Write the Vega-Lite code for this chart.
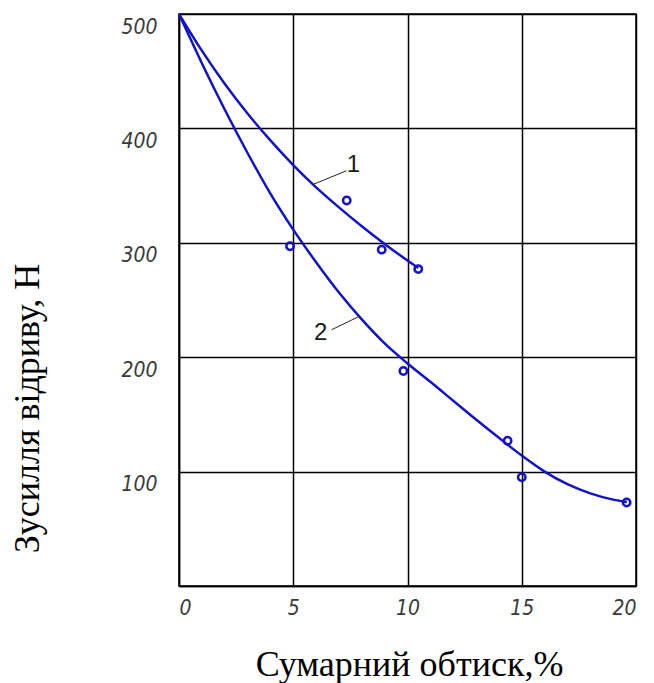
{
  "$schema": "https://vega.github.io/schema/vega-lite/v6.json",
  "width": 457,
  "height": 572,
  "autosize": "none",
  "padding": {"left": 179, "top": 14, "right": 18, "bottom": 97},
  "background": "white",
  "config": {
    "view": {"stroke": "#000", "strokeWidth": 1.5},
    "axis": {
      "grid": true,
      "gridColor": "#000",
      "gridWidth": 1.5,
      "gridOpacity": 1,
      "domainColor": "#000",
      "domainWidth": 1.5,
      "ticks": false,
      "labelFont": "DejaVu Sans Condensed",
      "labelFontStyle": "italic",
      "labelFontSize": 21,
      "labelColor": "#3a3a3a",
      "titleFont": "Liberation Serif",
      "titleFontWeight": "normal",
      "titleFontSize": 36,
      "titleColor": "#000"
    }
  },
  "datasets": {
    "curves": [
      {"x": 0, "y": 500, "series": "1"},
      {"x": 1, "y": 468, "series": "1"},
      {"x": 2, "y": 439, "series": "1"},
      {"x": 3, "y": 413, "series": "1"},
      {"x": 4, "y": 389.5, "series": "1"},
      {"x": 5, "y": 368, "series": "1"},
      {"x": 6, "y": 348.5, "series": "1"},
      {"x": 7, "y": 331, "series": "1"},
      {"x": 8, "y": 314.5, "series": "1"},
      {"x": 9, "y": 299, "series": "1"},
      {"x": 10, "y": 284.5, "series": "1"},
      {"x": 10.47, "y": 278, "series": "1"},
      {"x": 0, "y": 500, "series": "2"},
      {"x": 1, "y": 457, "series": "2"},
      {"x": 2, "y": 416.5, "series": "2"},
      {"x": 3, "y": 378.5, "series": "2"},
      {"x": 4, "y": 343, "series": "2"},
      {"x": 5, "y": 311.5, "series": "2"},
      {"x": 6, "y": 283, "series": "2"},
      {"x": 7, "y": 256.5, "series": "2"},
      {"x": 8, "y": 233, "series": "2"},
      {"x": 9, "y": 212, "series": "2"},
      {"x": 10, "y": 194.5, "series": "2"},
      {"x": 11, "y": 178.5, "series": "2"},
      {"x": 12, "y": 162, "series": "2"},
      {"x": 13, "y": 145.5, "series": "2"},
      {"x": 14, "y": 129.5, "series": "2"},
      {"x": 15, "y": 114, "series": "2"},
      {"x": 16, "y": 100, "series": "2"},
      {"x": 17, "y": 89, "series": "2"},
      {"x": 18, "y": 81, "series": "2"},
      {"x": 19, "y": 75.5, "series": "2"},
      {"x": 19.6, "y": 73.5, "series": "2"}
    ],
    "points": [
      {"x": 7.34, "y": 337, "series": "1"},
      {"x": 8.87, "y": 294, "series": "1"},
      {"x": 10.47, "y": 277, "series": "1"},
      {"x": 4.86, "y": 297, "series": "2"},
      {"x": 9.82, "y": 188, "series": "2"},
      {"x": 14.38, "y": 127, "series": "2"},
      {"x": 15.0, "y": 95, "series": "2"},
      {"x": 19.59, "y": 73, "series": "2"}
    ],
    "labels": [
      {"label": "1", "x": 7.63, "y": 368, "lx1": 5.87, "ly1": 351, "lx2": 7.33, "ly2": 363},
      {"label": "2", "x": 6.2, "y": 221, "lx1": 6.68, "ly1": 224, "lx2": 7.92, "ly2": 236}
    ]
  },
  "layer": [
    {
      "data": {"name": "curves"},
      "mark": {"type": "line", "color": "#1212c4", "strokeWidth": 2.5, "interpolate": "monotone"},
      "encoding": {
        "x": {
          "field": "x", "type": "quantitative",
          "scale": {"domain": [0, 20], "nice": false},
          "axis": {
            "values": [0, 5, 10, 15, 20],
            "labelPadding": 11,
            "title": "Сумарний обтиск,%",
            "titleX": 230, "titleY": 89,
            "titleAlign": "center", "titleBaseline": "alphabetic"
          }
        },
        "y": {
          "field": "y", "type": "quantitative",
          "scale": {"domain": [0, 500], "nice": false},
          "axis": {
            "values": [0, 100, 200, 300, 400, 500],
            "labelExpr": "datum.value == 0 ? '' : datum.label",
            "labelPadding": 22,
            "labelOffset": 13,
            "title": "Зусилля відриву, Н",
            "titleX": -141, "titleY": 394,
            "titleAngle": -90,
            "titleAlign": "center", "titleBaseline": "alphabetic"
          }
        },
        "detail": {"field": "series", "type": "nominal"}
      }
    },
    {
      "data": {"name": "points"},
      "mark": {"type": "point", "shape": "circle", "filled": false, "color": "#1212c4", "strokeWidth": 2.5, "size": 55, "opacity": 1},
      "encoding": {
        "x": {"field": "x", "type": "quantitative"},
        "y": {"field": "y", "type": "quantitative"}
      }
    },
    {
      "data": {"name": "labels"},
      "mark": {"type": "rule", "color": "#222", "strokeWidth": 1},
      "encoding": {
        "x": {"field": "lx1", "type": "quantitative"},
        "y": {"field": "ly1", "type": "quantitative"},
        "x2": {"field": "lx2"},
        "y2": {"field": "ly2"}
      }
    },
    {
      "data": {"name": "labels"},
      "mark": {"type": "text", "font": "Liberation Sans", "fontSize": 24, "color": "#1a1a1a", "align": "center", "baseline": "middle"},
      "encoding": {
        "x": {"field": "x", "type": "quantitative"},
        "y": {"field": "y", "type": "quantitative"},
        "text": {"field": "label"}
      }
    }
  ]
}
